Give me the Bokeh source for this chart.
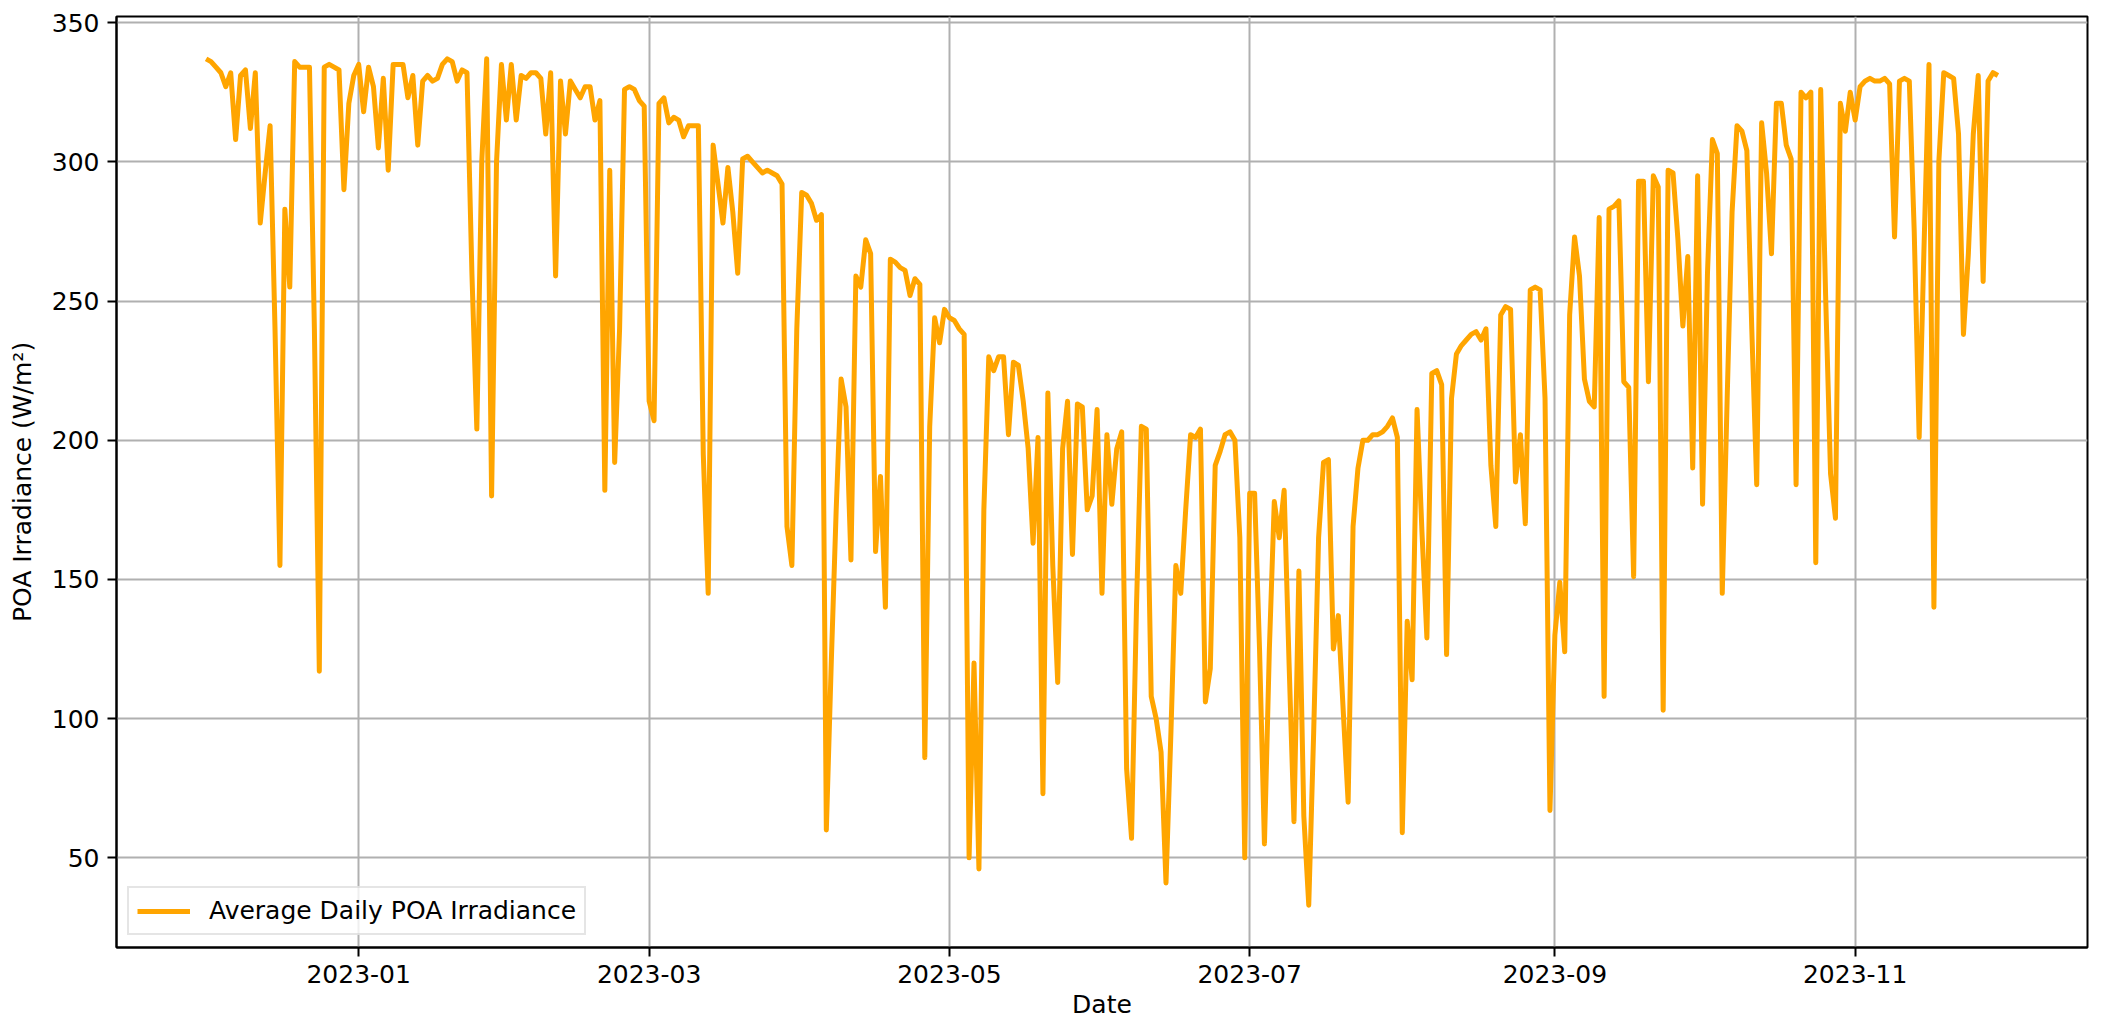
import pandas as pd
from bokeh.plotting import figure
from bokeh.models import (Range1d, FixedTicker, DatetimeTickFormatter, Legend,
                          LegendItem, ColumnDataSource)
from bokeh.embed import file_html
from bokeh.resources import INLINE

# Average daily POA irradiance (W/m²), one list per month
dec_2022 = [337, 336, 334, 332, 327, 332, 308, 331, 333, 312, 332, 278, 296, 313, 240, 155,
            283, 255, 336, 334, 334, 334, 240, 117, 334, 335, 334, 333, 290, 321, 331]
jan_2023 = [335, 318, 334, 327, 305, 330, 297, 335, 335, 335, 323, 331, 306, 329, 331, 329,
            330, 335, 337, 336, 329, 333, 332, 260, 204, 300, 337, 180, 300, 335, 315]
feb_2023 = [335, 315, 331, 330, 332, 332, 330, 310, 332, 259, 329, 310, 329, 326, 323, 327,
            327, 315, 322, 182, 297, 192, 240, 326, 327, 326, 322, 320]
mar_2023 = [214, 207, 321, 323, 314, 316, 315, 309, 313, 313, 313, 195, 145, 306, 292, 278,
            298, 282, 260, 301, 302, 300, 298, 296, 297, 296, 295, 292, 169, 155, 240]
apr_2023 = [289, 288, 285, 279, 281, 60, 120, 175, 222, 212, 157, 259, 255, 272, 267, 160,
            187, 140, 265, 264, 262, 261, 252, 258, 256, 86, 205, 244, 235, 247]
may_2023 = [244, 243, 240, 238, 50, 120, 46, 175, 230, 225, 230, 230, 202, 228, 227, 214,
            197, 163, 201, 73, 217, 155, 113, 197, 214, 159, 213, 212, 175, 180, 211]
jun_2023 = [145, 202, 177, 197, 203, 82, 57, 140, 205, 204, 108, 100, 88, 41, 95, 155,
            145, 175, 202, 201, 204, 106, 118, 191, 196, 202, 203, 200, 165, 50]
jul_2023 = [181, 181, 125, 55, 125, 178, 165, 182, 120, 63, 153, 65, 33, 95, 165, 192,
            193, 125, 137, 103, 70, 169, 190, 200, 200, 202, 202, 203, 205, 208, 201]
aug_2023 = [59, 135, 114, 211, 167, 129, 224, 225, 220, 123, 215, 231, 234, 236, 238, 239,
            236, 240, 191, 169, 245, 248, 247, 185, 202, 170, 254, 255, 254, 215, 67]
sep_2023 = [130, 149, 124, 245, 273, 259, 222, 214, 212, 280, 108, 283, 284, 286, 221, 219,
            151, 293, 293, 221, 295, 291, 103, 297, 296, 272, 241, 266, 190, 295]
oct_2023 = [177, 260, 308, 303, 145, 215, 282, 313, 311, 304, 240, 184, 314, 296, 267, 321,
            321, 306, 301, 184, 325, 323, 325, 156, 326, 252, 188, 172, 321, 311, 325]
nov_2023 = [315, 327, 329, 330, 329, 329, 330, 328, 273, 329, 330, 329, 275, 201, 270, 335,
            140, 300, 332, 331, 330, 310, 238, 267, 310, 331, 257, 329, 332, 331]

start_date = "2022-12-01"
end_date = "2023-11-30"
x_tick_labels = ["2023-01", "2023-03", "2023-05", "2023-07", "2023-09", "2023-11"]
y_ticks = [50, 100, 150, 200, 250, 300, 350]
series_label = "Average Daily POA Irradiance"

values = (dec_2022 + jan_2023 + feb_2023 + mar_2023 + apr_2023 + may_2023 +
          jun_2023 + jul_2023 + aug_2023 + sep_2023 + oct_2023 + nov_2023)
dates = pd.date_range(start_date, end_date, freq="D")
src = ColumnDataSource(data=dict(date=dates, poa=values))


def ms(ts):
    return pd.Timestamp(ts).value / 1e6


pad = pd.Timedelta(days=18.2)
x_start = ms(dates[0] - pad)
x_end = ms(dates[-1] + pad)
ymin, ymax = min(values), max(values)
ypad = (ymax - ymin) * 0.05

FONT = "DejaVu Sans"
FS = "25px"

p = figure(width=2112, height=1027, x_axis_type="datetime",
           x_range=Range1d(x_start, x_end),
           y_range=Range1d(ymin - ypad, ymax + ypad),
           output_backend="svg", toolbar_location=None)
p.min_border_left = 116
p.min_border_right = 25
p.min_border_top = 16
p.min_border_bottom = 80

r = p.line(x="date", y="poa", source=src, line_color="#FFA500",
           line_width=5, line_join="round")

p.xaxis.ticker = FixedTicker(ticks=[ms(s + "-01") for s in x_tick_labels])
fmt = "%Y-%m"
p.xaxis.formatter = DatetimeTickFormatter(years=fmt, months=fmt, days=fmt,
                                          hours=fmt, minutes=fmt, seconds=fmt)
p.yaxis.ticker = FixedTicker(ticks=y_ticks)

p.xaxis.axis_label = "Date"
p.yaxis.axis_label = "POA Irradiance (W/m²)"

for ax in (p.xaxis, p.yaxis):
    ax.axis_line_color = "black"
    ax.axis_line_width = 2
    ax.major_tick_line_color = "black"
    ax.major_tick_line_width = 2
    ax.major_tick_out = 9
    ax.major_tick_in = 0
    ax.minor_tick_line_color = None
    ax.major_label_text_font = FONT
    ax.major_label_text_font_size = FS
    ax.major_label_text_color = "black"
    ax.major_label_standoff = 8
    ax.axis_label_text_font = FONT
    ax.axis_label_text_font_size = FS
    ax.axis_label_text_font_style = "normal"
    ax.axis_label_text_color = "black"
p.xaxis.axis_label_standoff = 4
p.yaxis.axis_label_standoff = 12

p.xgrid.grid_line_color = "#b0b0b0"
p.ygrid.grid_line_color = "#b0b0b0"
p.xgrid.grid_line_width = 2
p.ygrid.grid_line_width = 2

p.outline_line_color = "black"
p.outline_line_width = 2
p.outline_line_alpha = 1.0

legend = Legend(items=[LegendItem(label=series_label, renderers=[r])],
                location=(11, 12))
legend.label_text_font = FONT
legend.label_text_font_size = FS
legend.label_text_color = "black"
legend.glyph_width = 53
legend.glyph_height = 24
legend.label_standoff = 19
legend.padding = 8
legend.margin = 0
legend.border_line_color = "#cccccc"
legend.border_line_width = 2
legend.background_fill_alpha = 0.8
p.add_layout(legend)

open("out.html", "w").write(file_html(p, INLINE))
